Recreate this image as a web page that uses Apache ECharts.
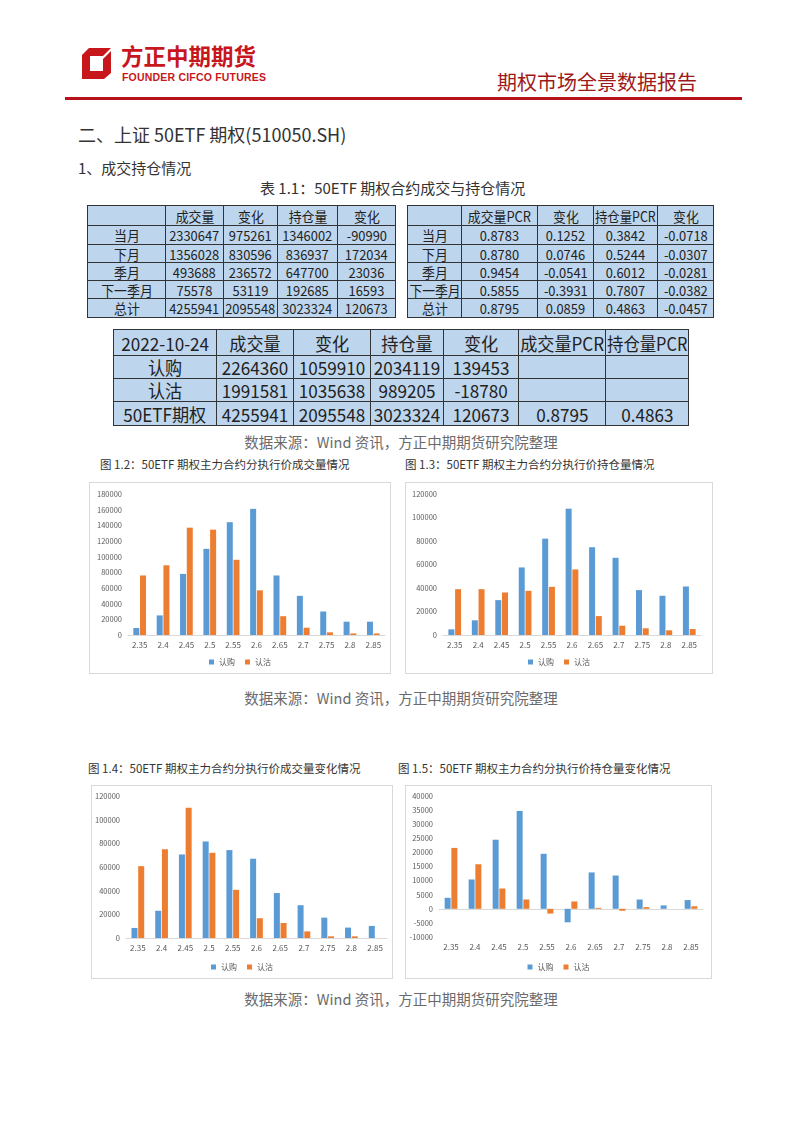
<!DOCTYPE html>
<html><head><meta charset="utf-8">
<script src="https://cdn.jsdelivr.net/npm/echarts@6/dist/echarts.min.js"></script>
<style>
body{margin:0;background:#fff;}
#page{position:relative;width:802px;height:1133px;background:#fff;font-family:"Noto Sans CJK SC","Noto Sans",sans-serif;color:#333;overflow:hidden;}
.abs{position:absolute;white-space:nowrap;}
table.t{position:absolute;border-collapse:collapse;table-layout:fixed;font-family:"Noto Sans CJK SC","Noto Sans",sans-serif;color:#222;}
table.t td{border:1px solid #333;background:#bdd5ed;text-align:center;padding:0;line-height:1;white-space:nowrap;}
table.t td div{display:flex;justify-content:center;align-items:center;width:100%;}
table.t td span{display:inline-block;flex-shrink:0;transform-origin:center center;}
.src{position:absolute;left:0;width:802px;text-align:center;font-size:14.5px;color:#6b6b6b;}
.ctitle{position:absolute;font-size:11.5px;color:#333;white-space:nowrap;}
.box{position:absolute;border:1px solid #d9d9d9;background:#fff;}
</style></head>
<body><div id="page">
<svg class="abs" style="left:82px;top:48px" width="30" height="32" viewBox="0 0 30 32">
<polygon points="0,7 7,0 29,0 29,25 22,31 0,31" fill="#c8161d"/>
<rect x="8" y="8" width="13" height="15" fill="#fff"/>
<polygon points="21,8 29,0 29,3 21,11" fill="#fff"/>
</svg>
<div class="abs" style="left:121px;top:42px;font-size:22.5px;line-height:26px;font-weight:bold;color:#c8161d">方正中期期货</div>
<div class="abs" style="left:122px;top:71px;font-size:10.5px;line-height:12px;font-weight:bold;color:#c8161d;font-family:'Liberation Sans',sans-serif;letter-spacing:0.2px">FOUNDER CIFCO FUTURES</div>
<div class="abs" style="left:497px;top:67px;font-size:20px;color:#9e1a1a">期权市场全景数据报告</div>
<div class="abs" style="left:65px;top:97px;width:677px;height:3px;background:#b5121b"></div>
<div class="abs" style="left:78px;top:121px;font-size:18px;color:#333">二、上证 50ETF 期权(510050.SH)</div>
<div class="abs" style="left:78px;top:157px;font-size:15px;color:#333">1、成交持仓情况</div>
<div class="abs" style="left:260px;top:177px;font-size:15px;color:#333">表 1.1：50ETF 期权合约成交与持仓情况</div>
<div id="tables"></div>
<div class="src" style="top:431px">数据来源：Wind 资讯，方正中期期货研究院整理</div>
<div class="ctitle" style="left:100px;top:456px">图 1.2：50ETF 期权主力合约分执行价成交量情况</div>
<div class="ctitle" style="left:405px;top:456px">图 1.3：50ETF 期权主力合约分执行价持仓量情况</div>
<div class="box" id="c1" style="left:89px;top:482px;width:300px;height:190px"></div>
<div class="box" id="c2" style="left:405px;top:482px;width:306px;height:190px"></div>
<div class="src" style="top:687px">数据来源：Wind 资讯，方正中期期货研究院整理</div>
<div class="ctitle" style="left:88px;top:760px">图 1.4：50ETF 期权主力合约分执行价成交量变化情况</div>
<div class="ctitle" style="left:398px;top:760px">图 1.5：50ETF 期权主力合约分执行价持仓量变化情况</div>
<div class="box" id="c3" style="left:91px;top:785px;width:300px;height:192px"></div>
<div class="box" id="c4" style="left:405px;top:785px;width:305px;height:192px"></div>
<div class="src" style="top:988px">数据来源：Wind 资讯，方正中期期货研究院整理</div>
</div>
<script>
// ---- table data ----
var t1Header = ['', '成交量', '变化', '持仓量', '变化'];
var t1Rows = [
  ['当月', '2330647', '975261', '1346002', '-90990'],
  ['下月', '1356028', '830596', '836937', '172034'],
  ['季月', '493688', '236572', '647700', '23036'],
  ['下一季月', '75578', '53119', '192685', '16593'],
  ['总计', '4255941', '2095548', '3023324', '120673']
];
var t2Header = ['', '成交量PCR', '变化', '持仓量PCR', '变化'];
var t2Rows = [
  ['当月', '0.8783', '0.1252', '0.3842', '-0.0718'],
  ['下月', '0.8780', '0.0746', '0.5244', '-0.0307'],
  ['季月', '0.9454', '-0.0541', '0.6012', '-0.0281'],
  ['下一季月', '0.5855', '-0.3931', '0.7807', '-0.0382'],
  ['总计', '0.8795', '0.0859', '0.4863', '-0.0457']
];
var t3Header = ['2022-10-24', '成交量', '变化', '持仓量', '变化', '成交量PCR', '持仓量PCR'];
var t3Rows = [
  ['认购', '2264360', '1059910', '2034119', '139453', '', ''],
  ['认沽', '1991581', '1035638', '989205', '-18780', '', ''],
  ['50ETF期权', '4255941', '2095548', '3023324', '120673', '0.8795', '0.4863']
];

// ---- chart data ----
var strikes = ['2.35', '2.4', '2.45', '2.5', '2.55', '2.6', '2.65', '2.7', '2.75', '2.8', '2.85'];
var seriesNames = ['认购', '认沽'];
var volCall = [9000, 25000, 78000, 110000, 144000, 161000, 76000, 50000, 30000, 17000, 17000];
var volPut = [76000, 89000, 137000, 134500, 96000, 57000, 24000, 9300, 3400, 2000, 2000];
var oiCall = [4800, 12500, 29700, 57500, 82000, 107500, 74700, 65700, 38200, 33400, 41300];
var oiPut = [39000, 39000, 36200, 37600, 41000, 55800, 16100, 7900, 5700, 4000, 5100];
var volChgCall = [8500, 23000, 70600, 81600, 74300, 67000, 38000, 27700, 17200, 8800, 10200];
var volChgPut = [60700, 75000, 110000, 72000, 40700, 16700, 12700, 5600, 1400, 1400, 0];
var oiChgCall = [3900, 10400, 24500, 34700, 19500, -4800, 12900, 11800, 3300, 1200, 3100];
var oiChgPut = [21600, 15800, 7200, 3300, -1700, 2600, 350, -700, 600, 0, 900];

function buildTable(header, rows, left, top, widths, heights, fs, sx) {
  var t = document.createElement('table');
  t.className = 't';
  t.style.left = left + 'px';
  t.style.top = top + 'px';
  var total = widths.reduce(function (a, b) { return a + b; }, 0);
  t.style.width = total + 'px';
  var cg = document.createElement('colgroup');
  widths.forEach(function (w) { var c = document.createElement('col'); c.style.width = w + 'px'; cg.appendChild(c); });
  t.appendChild(cg);
  var spans = [];
  [header].concat(rows).forEach(function (r, i) {
    var tr = document.createElement('tr');
    tr.style.height = heights[i] + 'px';
    r.forEach(function (v, j) {
      var td = document.createElement('td');
      td.style.height = (heights[i] - 1) + 'px';
      var d = document.createElement('div');
      var s = document.createElement('span');
      s.textContent = v;
      s.style.fontSize = fs + 'px';
      d.appendChild(s);
      td.appendChild(d);
      tr.appendChild(td);
      spans.push([s, widths[j]]);
    });
    t.appendChild(tr);
  });
  document.getElementById('tables').appendChild(t);
  spans.forEach(function (p) {
    var w = p[0].offsetWidth;
    var k = sx;
    if (w > 0 && w * k > p[1] - 3) k = (p[1] - 3) / w;
    p[0].style.transform = 'scaleX(' + k + ')';
  });
}
buildTable(t1Header, t1Rows, 87, 205, [78, 58, 54, 60, 58], [20, 19, 18, 18, 18, 19], 14, 0.92);
buildTable(t2Header, t2Rows, 407, 205, [54, 76, 56, 64, 56], [20, 19, 18, 18, 18, 19], 14, 0.92);
buildTable(t3Header, t3Rows, 113, 329, [103, 77, 77, 73, 75, 87, 83], [26, 23, 23, 24], 18, 0.95);

function makeChart(id, call, put, yMin, yMax, yInt, grid) {
  var ch = echarts.init(document.getElementById(id), null, { renderer: 'canvas' });
  ch.setOption({
    animation: false,
    textStyle: { fontFamily: '"Noto Sans CJK SC","Noto Sans",sans-serif' },
    color: ['#5b9bd5', '#ed7d31'],
    grid: grid,
    legend: {
      data: seriesNames, bottom: 2, left: 'center', itemWidth: 5, itemHeight: 5, itemGap: 10,
      icon: 'rect', textStyle: { fontSize: 8, color: '#595959' }
    },
    xAxis: {
      type: 'category', data: strikes,
      axisLine: { onZero: true, lineStyle: { color: '#d9d9d9' } },
      axisTick: { show: false },
      axisLabel: { fontSize: 8, color: '#595959', margin: 6, interval: 0 }
    },
    yAxis: {
      type: 'value', min: yMin, max: yMax, interval: yInt,
      axisLine: { show: false }, axisTick: { show: false },
      splitLine: { show: false },
      axisLabel: { fontSize: 7.5, color: '#595959', margin: 6, formatter: function (v) { return String(v); } }
    },
    series: [
      { name: seriesNames[0], type: 'bar', data: call, barWidth: 6, barGap: '12%' },
      { name: seriesNames[1], type: 'bar', data: put, barWidth: 6, barGap: '12%' }
    ]
  });
}
makeChart('c1', volCall, volPut, 0, 180000, 20000, { left: 38, right: 5, top: 11, bottom: 38 });
makeChart('c2', oiCall, oiPut, 0, 120000, 20000, { left: 37, right: 11, top: 11, bottom: 38 });
makeChart('c3', volChgCall, volChgPut, 0, 120000, 20000, { left: 33, right: 5, top: 10, bottom: 40 });
makeChart('c4', oiChgCall, oiChgPut, -10000, 40000, 5000, { left: 33, right: 8, top: 10, bottom: 41 });
</script>
</body></html>
